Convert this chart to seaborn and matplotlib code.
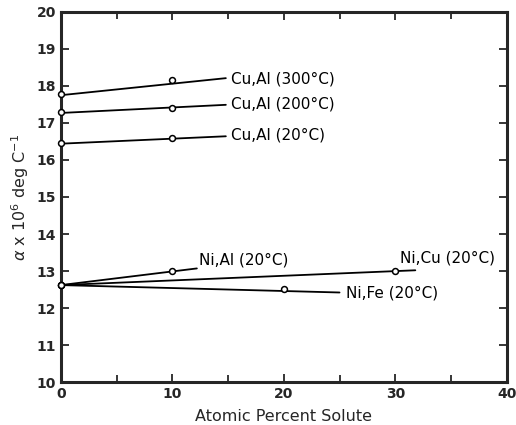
import matplotlib
matplotlib.use("Agg")
import matplotlib.pyplot as plt
import pandas as pd
import seaborn as sns

# measured points (open circles)
series = ["Cu,Al (300°C)", "Cu,Al (200°C)", "Cu,Al (20°C)",
          "Ni,Al (20°C)", "Ni,Cu (20°C)", "Ni,Fe (20°C)"]
pt_x = [[0, 10], [0, 10], [0, 10], [0, 10], [0, 30], [0, 20]]
pt_y = [[17.78, 18.15], [17.3, 17.4], [16.47, 16.6],
        [12.62, 13.0], [12.62, 13.0], [12.62, 12.52]]

# drawn trend lines (start, end)
fit_x = [[0, 14.8], [0, 14.8], [0, 14.8], [0, 12.2], [0, 31.8], [0, 25.0]]
fit_y = [[17.75, 18.21], [17.27, 17.49], [16.44, 16.64],
         [12.62, 13.07], [12.62, 13.02], [12.62, 12.42]]

# label anchor positions
lab_x = [15.3, 15.3, 15.3, 12.4, 30.4, 25.6]
lab_y = [18.19, 17.5, 16.67, 13.3, 13.35, 12.4]

xticks = [0, 10, 20, 30, 40]
yticks = list(range(10, 21))

pts = pd.DataFrame([
    {"series": s, "x": x, "y": y}
    for s, xs, ys in zip(series, pt_x, pt_y) for x, y in zip(xs, ys)
])
fits = pd.DataFrame([
    {"series": s, "x": x, "y": y}
    for s, xs, ys in zip(series, fit_x, fit_y) for x, y in zip(xs, ys)
])

sns.set_style("ticks")
plt.rcParams["font.family"] = ["DejaVu Sans"]

fig = plt.figure(figsize=(5.16, 4.25), dpi=100)
ax = fig.add_axes([0.118, 0.101, 0.864, 0.871])

sns.lineplot(data=fits, x="x", y="y", units="series", estimator=None,
             color="black", lw=1.3, ax=ax, legend=False)
sns.scatterplot(data=pts, x="x", y="y", s=18, facecolor="white",
                edgecolor="black", linewidth=1.1, zorder=3, ax=ax,
                legend=False, clip_on=False)

for s, lx, ly in zip(series, lab_x, lab_y):
    ax.text(lx, ly, s, fontsize=11, va="center", ha="left", color="black")

ax.set_xlim(0, 40)
ax.set_ylim(10, 20)
ax.set_xticks(xticks)
ax.set_xticks([5, 15, 25, 35], minor=True)
ax.set_yticks(yticks)
ax.set_yticklabels([str(v) for v in yticks], fontweight="bold")
ax.set_xticklabels([str(v) for v in xticks], fontweight="bold")
ax.tick_params(which="both", direction="in", top=True, right=True,
               width=1.3, labelsize=10)
ax.tick_params(which="major", length=6)
ax.tick_params(which="minor", length=5)
for sp in ax.spines.values():
    sp.set_linewidth(2.2)
    sp.set_visible(True)

ax.set_xlabel("Atomic Percent Solute", fontsize=11.5, labelpad=6)
ax.set_ylabel(r"$\alpha$ x 10$^6$ deg C$^{-1}$", fontsize=11.5, labelpad=4)

fig.savefig("out.png", dpi=100)
